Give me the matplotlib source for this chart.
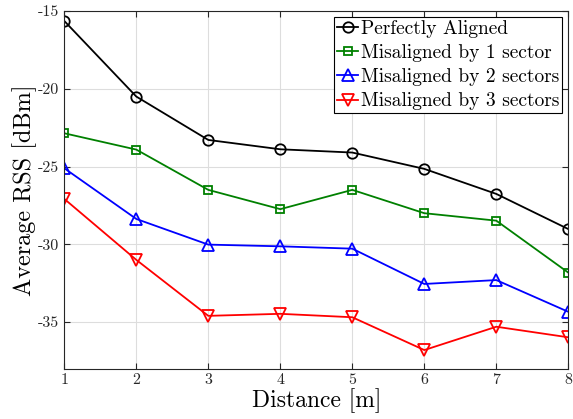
import matplotlib
matplotlib.use("Agg")
import matplotlib.pyplot as plt

plt.rcParams['font.family'] = 'cmr10'
plt.rcParams['axes.unicode_minus'] = False
plt.rcParams['mathtext.fontset'] = 'cm'
plt.rcParams['axes.formatter.use_mathtext'] = False

distance = [1, 2, 3, 4, 5, 6, 7, 8]
perfect = [-15.64, -20.5, -23.29, -23.89, -24.1, -25.15, -26.76, -29.02]
mis1 = [-22.86, -23.91, -26.5, -27.74, -26.5, -28.0, -28.48, -31.82]
mis2 = [-25.11, -28.37, -30.02, -30.13, -30.28, -32.55, -32.3, -34.34]
mis3 = [-27.08, -31.0, -34.6, -34.47, -34.69, -36.8, -35.3, -35.98]
labels = ['Perfectly Aligned', 'Misaligned by 1 sector',
          'Misaligned by 2 sectors', 'Misaligned by 3 sectors']

fig = plt.figure(figsize=(5.73, 4.19), dpi=100)
ax = fig.add_axes([0.1122, 0.12, 0.8796, 0.8537])

lw = 1.3
ax.plot(distance, perfect, '-o', color='black', lw=lw, ms=7.5, mfc='none', mew=1.3, label=labels[0])
ax.plot(distance, mis1, '-s', color=(0, 0.5, 0), lw=lw, ms=5.5, mfc='none', mew=1.3, label=labels[1])
ax.plot(distance, mis2, '-^', color='blue', lw=lw, ms=8, mfc='none', mew=1.3, label=labels[2])
ax.plot(distance, mis3, '-v', color='red', lw=lw, ms=8, mfc='none', mew=1.3, label=labels[3])

ax.set_xlim(1, 8)
ax.set_ylim(-38, -15)
ax.set_xticks(distance)
ax.set_yticks([-35, -30, -25, -20, -15])
ax.grid(True, color='#dddddd', lw=0.8)
ax.set_axisbelow(True)
ax.tick_params(direction='in', top=True, right=True, labelsize=11.5, length=4, width=0.8, colors='#262626')
for s in ax.spines.values():
    s.set_color('#262626')
    s.set_linewidth(0.8)

ax.set_xlabel('Distance [m]', fontsize=17, labelpad=1)
ax.set_ylabel('Average RSS [dBm]', fontsize=17.5, labelpad=1)

leg = ax.legend(loc='upper right', fontsize=14, frameon=True, fancybox=False,
                edgecolor='black', framealpha=1, borderpad=0.15, labelspacing=0.32,
                handlelength=1.1, handletextpad=0.15, borderaxespad=0.3)
leg.get_frame().set_linewidth(0.8)

fig.savefig('out.png', dpi=100)
